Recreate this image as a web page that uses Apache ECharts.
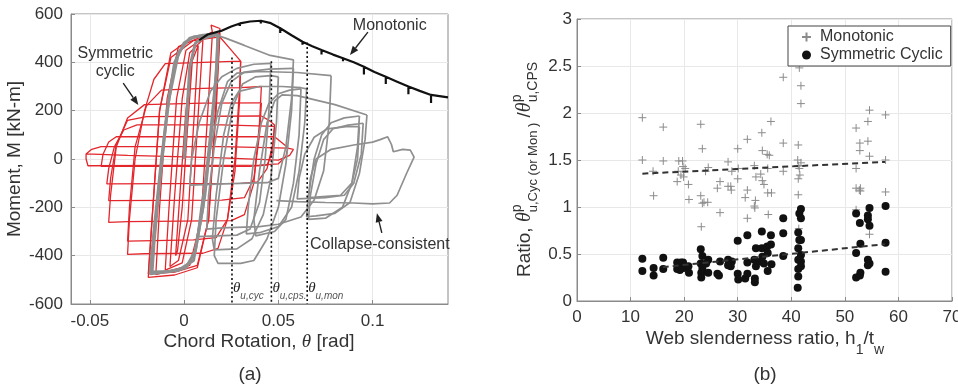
<!DOCTYPE html>
<html><head><meta charset="utf-8">
<script src="https://cdn.jsdelivr.net/npm/echarts@6/dist/echarts.min.js"></script>
<style>html,body{margin:0;padding:0;background:#fff}#c{width:958px;height:387px}</style>
</head><body><div id="c"></div><script>
// ---------- (a) hysteresis data: chord rotation [rad], moment [kN-m] ----------
const leftXTicks = [-0.05, 0, 0.05, 0.1];
const monotonic = [[0.008,492],[0.009,500],[0.0125,515],[0.0196,530],[0.025,548],[0.0296,561],[0.0296,550],[0.0296,561],[0.035,569],[0.0407,572],[0.0407,561],[0.0407,572],[0.046,562],[0.051,541],[0.051,521],[0.051,541],[0.057,512],[0.0628,485],[0.0628,473],[0.0628,485],[0.068,467],[0.0729,451],[0.0729,432],[0.0729,451],[0.079,432],[0.0843,417],[0.0843,405],[0.0843,417],[0.090,400],[0.0954,382],[0.0954,350],[0.0954,382],[0.101,360],[0.107,340],[0.107,310],[0.107,340],[0.113,320],[0.119,300],[0.119,268],[0.119,300],[0.125,282],[0.131,265],[0.131,232],[0.131,265],[0.14,255]];
const red0 = [[0,0],[0.002,250],[0.004,400],[0.0045,420],[0.002,150],[-0.001,-200],[-0.0035,-380],[-0.0045,-400],[-0.002,-120],[0.001,200],[0.004,400]];
const red1 = [[0.004,400],[0.0075,470],[0.0055,200],[0.002,-250],[-0.003,-420],[-0.0075,-445],[-0.005,-150],[-0.001,250],[0.003,440],[0.0075,475]];
const red2 = [[0.0075,475],[0.010,495],[0.008,250],[0.004,-250],[-0.001,-430],[-0.010,-460],[-0.008,-200],[-0.004,250],[0.001,450],[0.010,500]];
const red3 = [[0.010,500],[0.015,520],[0.013,250],[0.009,-250],[0.003,-440],[-0.015,-478],[-0.013,-200],[-0.009,250],[-0.003,465],[0.015,525]];
const red4 = [[0.015,525],[0.0143,554],[0.019,540],[0.017,250],[0.013,-250],[0.007,-450],[-0.005,-480],[-0.019,-490],[-0.017,-250],[-0.013,200],[-0.007,440],[0.005,505],[0.019,520]];
const red5 = [[0.019,520],[0.017,200],[0.013,-250],[0.007,-440],[-0.005,-468],[-0.019,-475],[-0.017,-250],[-0.013,200],[-0.007,420],[0.005,490],[0.019,505]];
const red6 = [[0.019,505],[0.024,460],[0.030,405],[0.0295,300],[0.027,0],[0.023,-250],[0.018,-370],[0.010,-390],[-0.021,-392],[-0.030,-395],[-0.029,-250],[-0.026,0],[-0.021,200],[-0.016,330],[-0.010,395],[0.010,400],[0.030,405]];
const red7 = [[0.030,405],[0.0295,250],[0.027,-50],[0.023,-250],[0.017,-325],[0.005,-335],[-0.030,-340],[-0.029,-200],[-0.026,50],[-0.020,220],[-0.012,285],[0.010,292],[0.030,295]];
const red8 = [[0.030,295],[0.041,300],[0.040,150],[0.037,-100],[0.032,-230],[0.025,-255],[-0.030,-259],[-0.040,-262],[-0.039,-150],[-0.036,50],[-0.030,170],[-0.021,225],[0.010,231],[0.041,232]];
const red9 = [[0.041,232],[0.040,100],[0.037,-80],[0.032,-160],[0.020,-170],[-0.040,-172],[-0.039,-80],[-0.036,60],[-0.030,160],[-0.020,175],[0.041,178]];
const red10 = [[0.041,178],[0.045,160],[0.048,141],[0.047,60],[0.044,-40],[0.039,-95],[0.030,-101],[-0.041,-103],[-0.040,-40],[-0.037,50],[-0.032,120],[-0.025,141],[0.020,141],[0.048,135]];
const red11 = [[0.048,135],[0.047,30],[0.044,-25],[0.035,-30],[-0.044,-30],[-0.043,20],[-0.040,70],[-0.036,92],[0.020,92],[0.048,92]];
const red12 = [[0.048,92],[0.055,48],[0.054,10],[0.050,-20],[0.040,-25],[-0.051,-28],[-0.052,0],[-0.052,21],[-0.049,40],[-0.044,51],[0.020,51],[0.055,45],[0.058,40],[0.056,15],[0.050,-5],[0.020,5],[-0.030,15],[-0.052,21]];
const grayThick1 = [[0,0],[0.003,380],[0.006,480],[0.010,500],[0.018,515],[0.0175,400],[0.015,150],[0.011,-150],[0.006,-380],[0.001,-450],[-0.008,-465],[-0.017,-468],[-0.016,-350],[-0.013,-100],[-0.009,200],[-0.005,400],[0.000,480],[0.005,505],[0.012,512],[0.018,518]];
const grayThick2 = [[0.018,518],[0.017,350],[0.014,100],[0.010,-200],[0.005,-420],[-0.003,-460],[-0.012,-470],[-0.018,-475],[-0.016,-300],[-0.012,0],[-0.008,250],[-0.003,440],[0.003,500],[0.010,512],[0.016,515]];
const gray1 = [[0.016,515],[0.022,500],[0.032,470],[0.045,430],[0.058,410],[0.057,250],[0.054,50],[0.050,-80],[0.044,-98],[0.025,-102],[0.003,-108],[0.004,0],[0.008,150],[0.014,280],[0.020,340],[0.028,375],[0.037,392],[0.046,396]];
const gray2 = [[0.046,396],[0.045,200],[0.043,0],[0.040,-180],[0.035,-290],[0.028,-315],[0.007,-321],[0.009,-200],[0.013,0],[0.018,200],[0.023,320],[0.028,355],[0.040,362],[0.060,358],[0.078,345]];
const gray3 = [[0.078,345],[0.077,150],[0.074,-50],[0.069,-170],[0.062,-240],[0.050,-270],[0.040,-280],[0.020,-285],[0.012,-290],[0.013,-150],[0.016,50],[0.020,230],[0.025,320],[0.032,360],[0.045,372],[0.058,375]];
const gray4 = [[0.058,375],[0.057,200],[0.054,-20],[0.050,-200],[0.044,-330],[0.037,-420],[0.030,-432],[0.018,-432],[0.016,-400],[0.017,-250],[0.021,0],[0.026,220],[0.031,310],[0.038,340],[0.046,345],[0.050,340]];
const gray5 = [[0.050,340],[0.049,150],[0.046,-80],[0.042,-230],[0.036,-330],[0.028,-372],[0.016,-376],[0.015,-330],[0.017,-150],[0.021,100],[0.025,230],[0.029,280],[0.040,300]];
const gray6 = [[0.040,300],[0.052,300],[0.062,295],[0.065,290],[0.064,150],[0.061,-50],[0.057,-200],[0.050,-280],[0.040,-305],[0.033,-310],[0.034,-200],[0.037,0],[0.041,150],[0.045,230],[0.050,270],[0.056,285],[0.062,290]];
const gray7 = [[0.062,290],[0.061,100],[0.058,-100],[0.054,-250],[0.048,-300],[0.038,-318],[0.037,-250],[0.040,-50],[0.044,150],[0.048,240],[0.052,265],[0.060,262],[0.080,225],[0.097,182]];
const gray8 = [[0.097,182],[0.096,80],[0.093,-60],[0.088,-180],[0.080,-225],[0.070,-235],[0.065,-239],[0.066,-150],[0.069,0],[0.073,100],[0.078,150],[0.085,170],[0.093,178]];
const gray9 = [[0.093,178],[0.092,50],[0.089,-100],[0.084,-200],[0.075,-245],[0.066,-250],[0.067,-150],[0.070,-20],[0.074,80],[0.079,125],[0.087,140],[0.095,148]];
const gray10 = [[0.095,148],[0.094,20],[0.090,-100],[0.085,-150],[0.075,-160],[0.060,-165],[0.061,-80],[0.064,20],[0.069,90],[0.076,125],[0.086,134],[0.093,134]];
const gray11 = [[0.093,134],[0.092,0],[0.089,-100],[0.083,-150],[0.070,-158],[0.066,-160],[0.067,-80],[0.070,0],[0.078,40],[0.090,58],[0.100,70],[0.104,80],[0.108,92],[0.110,60],[0.111,30],[0.116,40],[0.120,37],[0.122,8],[0.118,-60],[0.113,-150],[0.109,-182],[0.100,-186],[0.090,-182],[0.075,-180],[0.060,-176],[0.049,-172]];
const thetaLimits = [0.0254, 0.0463, 0.0653];      // rotations of dotted markers
const thetaTops = [420, 405, 482];                   // moment where dotted markers start
const thetaSubs = ['u,cyc', 'u,cps.', 'u,mon'];

// ---------- (b) scatter data: web slenderness h1/tw, ratio ----------
const monoPts = [[12.2,1.95],[12.2,1.50],[14.2,1.38],[14.3,1.12],[16.1,1.85],[16.1,1.49],[18.7,1.27],[18.9,1.38],[19.0,1.49],[19.4,1.34],[19.7,1.49],[19.8,1.43],[19.9,1.32],[20.2,1.41],[20.8,1.24],[20.9,1.08],[23.1,1.88],[23.4,1.62],[23.1,1.12],[23.4,1.04],[23.2,0.79],[23.7,1.05],[24.5,1.42],[24.4,1.05],[24.0,1.38],[26.2,1.20],[26.7,1.27],[26.7,0.94],[28.2,1.48],[28.2,1.22],[28.7,1.22],[28.8,1.18],[28.9,1.38],[30.0,1.62],[30.0,1.30],[30.1,1.41],[31.4,1.10],[31.8,1.72],[31.8,1.18],[31.8,0.88],[33.1,1.44],[33.2,0.99],[33.3,1.07],[33.1,1.01],[33.4,1.32],[34.3,1.35],[34.5,1.79],[34.6,1.60],[34.6,1.28],[34.9,1.24],[35.5,1.56],[35.6,1.41],[35.6,1.15],[35.7,0.92],[35.9,1.55],[36.2,1.91],[36.3,1.15],[38.5,1.68],[38.5,1.38],[38.5,2.38],[41.3,1.66],[41.3,1.44],[41.5,2.48],[41.8,2.29],[41.8,2.10],[41.2,1.50],[41.3,1.30],[41.3,1.13],[41.5,1.41],[41.4,0.77],[41.8,1.47],[41.6,1.34],[52.1,1.84],[52.1,1.41],[52.1,1.20],[52.7,1.18],[52.8,1.68],[52.8,1.60],[52.9,1.20],[52.9,1.17],[52.1,0.97],[54.3,1.91],[54.3,1.70],[54.6,2.03],[54.6,1.54],[54.6,0.71],[57.6,1.98],[57.6,1.50],[57.6,1.16]];
const cycPts = [[12.2,0.45],[12.2,0.32],[14.3,0.35],[14.3,0.27],[16.1,0.46],[16.1,0.34],[18.7,0.41],[18.9,0.37],[19.1,0.39],[19.4,0.41],[19.6,0.37],[19.8,0.41],[19.9,0.35],[19.2,0.33],[18.7,0.34],[20.8,0.37],[20.9,0.30],[23.1,0.55],[23.4,0.48],[23.1,0.40],[23.4,0.35],[23.2,0.30],[23.2,0.25],[24.5,0.44],[24.5,0.30],[24.1,0.40],[26.2,0.29],[26.7,0.42],[26.5,0.27],[28.2,0.44],[28.4,0.40],[28.7,0.37],[28.9,0.42],[28.2,0.38],[30.0,0.64],[30.0,0.29],[30.1,0.23],[31.4,0.24],[31.8,0.70],[31.8,0.41],[31.8,0.29],[33.1,0.44],[33.2,0.24],[33.2,0.20],[33.4,0.56],[33.4,0.37],[34.3,0.42],[34.5,0.74],[34.5,0.56],[34.6,0.47],[34.9,0.40],[35.5,0.58],[35.6,0.51],[35.6,0.32],[36.2,0.70],[36.2,0.60],[36.3,0.39],[38.5,0.88],[38.5,0.72],[38.5,0.48],[41.2,0.14],[41.3,0.26],[41.3,0.34],[41.3,0.56],[41.3,0.73],[41.5,0.65],[41.5,0.93],[41.8,0.98],[41.8,0.88],[41.8,0.65],[41.8,0.49],[41.8,0.42],[41.8,0.37],[41.3,0.44],[52.1,0.93],[54.6,0.99],[54.3,0.91],[54.3,0.87],[52.8,0.83],[54.6,0.80],[57.6,1.01],[52.9,0.61],[52.1,0.51],[57.6,0.62],[54.3,0.44],[54.6,0.40],[54.3,0.38],[52.9,0.30],[52.8,0.27],[52.1,0.25],[57.6,0.31]];
const monoTrend = [[12.2,1.355],[57.5,1.48]];
const cycTrend = [[16.0,0.36],[57.5,0.605]];

// ---------- chart ----------
const FF = '"Liberation Sans", Arial, Helvetica, sans-serif';
const TXT = '#333';
const AX = '#8a8a8a';
const RED = '#e3262b';
const GRAY = '#8f8f8f';
const chart = echarts.init(document.getElementById('c'), null, {renderer: 'canvas'});

const redLoops = [red0, red1, red2, red3, red4, red5, red6, red7, red8, red9, red10, red11, red12];
const grayThick = [grayThick1, grayThick2];
const grayThin = [gray1, gray2, gray3, gray4, gray5, gray6, gray7, gray8, gray9, gray10, gray11];

function lineSeries(data, color, width, z, extra) {
  return Object.assign({type: 'line', xAxisIndex: 0, yAxisIndex: 0, data: data, showSymbol: false, symbol: 'none',
    silent: true, z: z, lineStyle: {color: color, width: width}, animation: false}, extra || {});
}
const series = [];
redLoops.forEach(d => series.push(lineSeries(d, RED, 1.3, 2)));
grayThin.forEach(d => series.push(lineSeries(d, GRAY, 1.7, 3)));
grayThick.forEach(d => series.push(lineSeries(d, GRAY, 3, 3)));
series.push(lineSeries(monotonic, '#111', 2.2, 4));
thetaLimits.forEach((x, i) => series.push(lineSeries([[x, thetaTops[i]], [x, -600]], '#111', 1.6, 5, {lineStyle: {color: '#111', width: 1.6, type: [2, 2.5]}})));

series.push({type: 'scatter', name: 'Monotonic', xAxisIndex: 1, yAxisIndex: 1, data: monoPts,
  symbol: 'path://M5,0L5,10M0,5L10,5', symbolSize: 8, z: 3,
  itemStyle: {color: 'rgba(0,0,0,0)', borderColor: '#8c8c8c', borderWidth: 1, opacity: 1}});
series.push({type: 'scatter', name: 'Symmetric Cyclic', xAxisIndex: 1, yAxisIndex: 1, data: cycPts,
  symbol: 'circle', symbolSize: 8, z: 4, itemStyle: {color: '#111', opacity: 1}});
series.push({type: 'line', xAxisIndex: 1, yAxisIndex: 1, data: monoTrend, showSymbol: false, symbol: 'none', z: 5, silent: true,
  lineStyle: {color: '#333', width: 2, type: [6, 4]}});
series.push({type: 'line', xAxisIndex: 1, yAxisIndex: 1, data: cycTrend, showSymbol: false, symbol: 'none', z: 5, silent: true,
  lineStyle: {color: '#333', width: 2, type: [6, 4]}});

function axisBase(extra) {
  return Object.assign({
    type: 'value',
    axisLine: {show: true, onZero: false, lineStyle: {color: AX, width: 1}},
    axisTick: {show: true, inside: true, length: 4, lineStyle: {color: AX}},
    axisLabel: {fontSize: 17, color: TXT, fontFamily: FF, margin: 8},
    splitLine: {show: true, lineStyle: {color: '#e8e8e8', width: 1}}
  }, extra);
}

const option = {
  animation: false,
  backgroundColor: '#fff',
  grid: [
    {left: 71, top: 14, width: 377, height: 290, show: true, borderColor: AX, borderWidth: 1, backgroundColor: 'transparent', outerBoundsMode: 'none', containLabel: false},
    {left: 577, top: 19, width: 375, height: 282, show: true, borderColor: AX, borderWidth: 1, backgroundColor: 'transparent', outerBoundsMode: 'none', containLabel: false}
  ],
  xAxis: [
    axisBase({gridIndex: 0, min: -0.06, max: 0.14,
      axisTick: {show: true, inside: true, length: 4, lineStyle: {color: AX}, customValues: leftXTicks},
      axisLabel: {fontSize: 17, color: TXT, fontFamily: FF, margin: 9, customValues: leftXTicks}}),
    axisBase({gridIndex: 1, min: 0, max: 70, interval: 10})
  ],
  yAxis: [
    axisBase({gridIndex: 0, min: -600, max: 600, interval: 200}),
    axisBase({gridIndex: 1, min: 0, max: 3, interval: 0.5, axisLabel: {fontSize: 17, color: TXT, fontFamily: FF, margin: 5}})
  ],
  legend: {
    data: ['Monotonic', 'Symmetric Cyclic'], orient: 'vertical', left: 788, top: 26,
    padding: [3, 8, 3, 13], itemGap: 2, itemWidth: 9, itemHeight: 9,
    borderColor: '#444', borderWidth: 1, backgroundColor: '#fff',
    textStyle: {fontSize: 16, color: TXT, fontFamily: FF, padding: [0, 0, 0, 4]},
    selectedMode: false
  },
  series: series
};
chart.setOption(option);

// ---------- text layout helpers ----------
const mctx = document.createElement('canvas').getContext('2d');
function tw(t, f) { mctx.font = f; return mctx.measureText(t).width; }
function runText(pieces, x, y, rotation, center) {
  let cx = 0, holdW = 0; const kids = [];
  pieces.forEach(p => {
    const w = tw(p.t, p.f);
    kids.push({type: 'text', x: cx, y: p.dy || 0, silent: true,
      style: {text: p.t, font: p.f, fill: p.c || TXT, align: 'left', textAlign: 'left', verticalAlign: 'middle', textVerticalAlign: 'middle'}});
    if (p.hold) { holdW = w; } else { cx += Math.max(w, holdW); holdW = 0; }
  });
  if (center) kids.forEach(k => { k.x -= cx / 2; });
  return {type: 'group', x: x, y: y, rotation: rotation || 0, children: kids, silent: true};
}
const S = s => s + 'px ' + FF;
const SI = s => 'italic ' + s + 'px ' + FF;
const TH = s => 'italic ' + s + 'px "Liberation Serif", "DejaVu Serif", serif';

const graphics = [];
// axis names
graphics.push(runText([{t: 'Moment, M [kN-m]', f: S(19)}], 15, 159, Math.PI / 2, true));
graphics.push(runText([{t: 'Chord Rotation, ', f: S(19)}, {t: 'θ', f: TH(19)}, {t: ' [rad]', f: S(19)}], 259, 342, 0, true));
graphics.push(runText([{t: 'Web slenderness ratio, h', f: S(19)}, {t: '1', f: S(14), dy: 11}, {t: '/t', f: S(19)}, {t: 'w', f: S(14), dy: 11}], 765, 339, 0, true));
graphics.push(runText([
  {t: 'Ratio, ', f: S(19)}, {t: 'θ', f: TH(20)},
  {t: 'p', f: S(14), dy: -8, hold: true}, {t: 'u,Cyc (or Mon )', f: S(13), dy: 8},
  {t: ' /', f: S(19)}, {t: 'θ', f: TH(20)},
  {t: 'p', f: S(14), dy: -8, hold: true}, {t: 'u,CPS', f: S(14), dy: 8}
], 525, 277, Math.PI / 2, false));
// captions
graphics.push(runText([{t: '(a)', f: S(19)}], 250, 375, 0, true));
graphics.push(runText([{t: '(b)', f: S(19)}], 765, 375, 0, true));

// annotations (data coordinates of the left panel)
const P = pt => chart.convertToPixel({gridIndex: 0}, pt);
function at(pt, pieces, center) { const q = P(pt); return runText(pieces, q[0], q[1], 0, center); }
graphics.push(at([0.1091, 554], [{t: 'Monotonic', f: S(16)}], true));
graphics.push(at([-0.0365, 438], [{t: 'Symmetric', f: S(16)}], true));
graphics.push(at([-0.0365, 360], [{t: 'cyclic', f: S(16)}], true));
graphics.push(at([0.0668, -356], [{t: 'Collapse-consistent', f: S(16)}], false));
thetaLimits.forEach((x, i) => {
  const q = P([x, -535]);
  graphics.push(runText([{t: 'θ', f: TH(15), c: '#222'}, {t: thetaSubs[i], f: SI(10), c: '#555', dy: 8}], q[0] + 1, q[1], 0, false));
});
function arrow(from, to) {
  const a = P(from), b = P(to);
  const dx = b[0] - a[0], dy = b[1] - a[1], L = Math.hypot(dx, dy), ux = dx / L, uy = dy / L;
  const hl = 9, hw = 3.5;
  const bx = b[0] - ux * hl, by = b[1] - uy * hl;
  graphics.push({type: 'line', silent: true, shape: {x1: a[0], y1: a[1], x2: bx, y2: by}, style: {stroke: '#222', lineWidth: 1.4}});
  graphics.push({type: 'polygon', silent: true, shape: {points: [[b[0], b[1]], [bx - uy * hw, by + ux * hw], [bx + uy * hw, by - ux * hw]]}, style: {fill: '#222'}});
}
arrow([0.0975, 525], [0.088, 430]);
arrow([-0.0323, 314], [-0.0243, 223]);
arrow([0.1049, -306], [0.1023, -224]);

chart.setOption({graphic: graphics});
</script></body></html>
